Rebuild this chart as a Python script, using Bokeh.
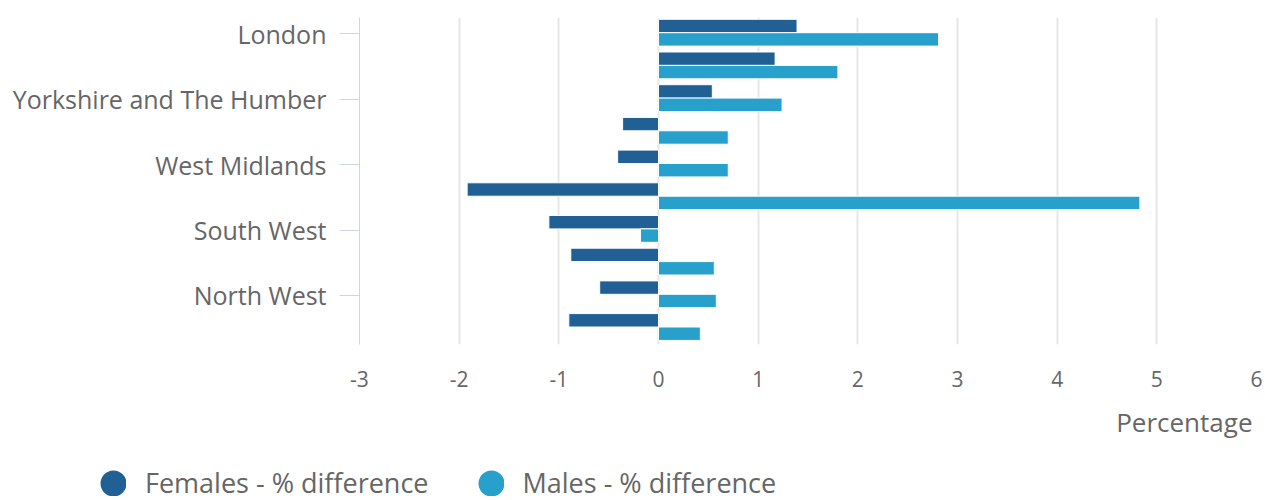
import numpy as np
from bokeh.plotting import figure
from bokeh.layouts import column
from bokeh.models import Range1d, FixedTicker, Legend, LegendItem, Title, ColumnDataSource
from bokeh.transform import dodge
from bokeh.embed import file_html
from bokeh.resources import INLINE

regions = ["London", "South East", "Yorkshire and The Humber", "East of England",
           "West Midlands", "Wales", "South West", "East Midlands", "North West", "North East"]
females = [1.39, 1.17, 0.54, -0.36, -0.41, -1.92, -1.10, -0.88, -0.59, -0.90]
males = [2.81, 1.80, 1.24, 0.70, 0.70, 4.83, -0.18, 0.56, 0.58, 0.42]
x_ticks = [-3, -2, -1, 0, 1, 2, 3, 4, 5, 6]
series_names = ["Females - % difference", "Males - % difference"]
colors = ["#206095", "#27a0cc"]

FONT = "Open Sans"
TXT = "#666666"

src = ColumnDataSource(dict(idx=list(range(len(regions))), region=regions,
                            females=females, males=males))

chart = figure(width=1265, height=460, output_backend="svg", toolbar_location=None,
               x_range=Range1d(-3, 6), y_range=Range1d(len(regions) - 0.5, -0.5),
               min_border_left=359, min_border_right=9, min_border_top=17, min_border_bottom=116)
chart.outline_line_color = None

rf = chart.hbar(y=dodge("idx", -0.24), height=0.41, left=0, right="females", source=src,
                fill_color=colors[0], line_color="white", line_width=1)
rm = chart.hbar(y=dodge("idx", 0.17), height=0.41, left=0, right="males", source=src,
                fill_color=colors[1], line_color="white", line_width=1)

# x axis
xa = chart.xaxis[0]
xa.ticker = FixedTicker(ticks=x_ticks)
xa.major_label_overrides = {t: str(t) for t in x_ticks}
xa.axis_line_color = None
xa.major_tick_line_color = None
xa.minor_tick_line_color = None
xa.major_tick_out = 0
xa.major_tick_in = 0
xa.major_label_standoff = 26
xa.major_label_text_font = FONT
xa.major_label_text_font_size = "21px"
xa.major_label_text_color = TXT

chart.xgrid.ticker = FixedTicker(ticks=x_ticks)
chart.xgrid.grid_line_color = "#e6e6e6"
chart.xgrid.grid_line_width = 2
chart.ygrid.grid_line_color = None

# y axis
ya = chart.yaxis[0]
ya.ticker = FixedTicker(ticks=list(range(0, len(regions), 2)))
ya.major_label_overrides = {i: regions[i] for i in range(0, len(regions), 2)}
ya.axis_line_color = "#ccd6eb"
ya.axis_line_width = 1
ya.major_tick_line_color = "#ccd6eb"
ya.major_tick_out = 20
ya.major_tick_in = 0
ya.minor_tick_line_color = None
ya.major_label_standoff = 13
ya.major_label_text_font = FONT
ya.major_label_text_font_size = "25px"
ya.major_label_text_color = TXT

t = Title(text="Percentage", align="right", text_font=FONT, text_font_size="26px",
          text_color=TXT, text_font_style="normal", standoff=25, offset=4)
chart.add_layout(t, "below")

# legend strip
leg = figure(width=1265, height=40, output_backend="svg", toolbar_location=None,
             x_range=Range1d(0, 1), y_range=Range1d(0, 1),
             x_axis_type=None, y_axis_type=None,
             min_border_left=0, min_border_right=0, min_border_top=0, min_border_bottom=0)
leg.outline_line_color = None
leg.xgrid.visible = False
leg.ygrid.visible = False
for fig in (chart, leg):
    try:
        fig.frame_align = False
    except Exception:
        pass

# legend proxies: one undrawn (NaN) point per series, used only for the legend swatch
proxy_f = ColumnDataSource(dict(x=[float("nan")], y=[float("nan")]))
proxy_m = ColumnDataSource(dict(x=[float("nan")], y=[float("nan")]))
lf = leg.scatter("x", "y", source=proxy_f, marker="circle", fill_color=colors[0],
                 line_color=colors[0], line_width=15.6)
lm = leg.scatter("x", "y", source=proxy_m, marker="circle", fill_color=colors[1],
                 line_color=colors[1], line_width=15.6)
legend = Legend(items=[LegendItem(label=series_names[0], renderers=[lf]),
                       LegendItem(label=series_names[1], renderers=[lm])],
                location=(100, -1), orientation="horizontal",
                glyph_width=26, glyph_height=26, label_standoff=19, spacing=49,
                padding=0, margin=0, border_line_color=None, background_fill_alpha=0,
                label_text_font=FONT, label_text_font_size="27px", label_text_color=TXT)
leg.add_layout(legend, "center")

p = column(chart, leg, spacing=0)

open("out.html", "w").write(file_html(p, INLINE))
